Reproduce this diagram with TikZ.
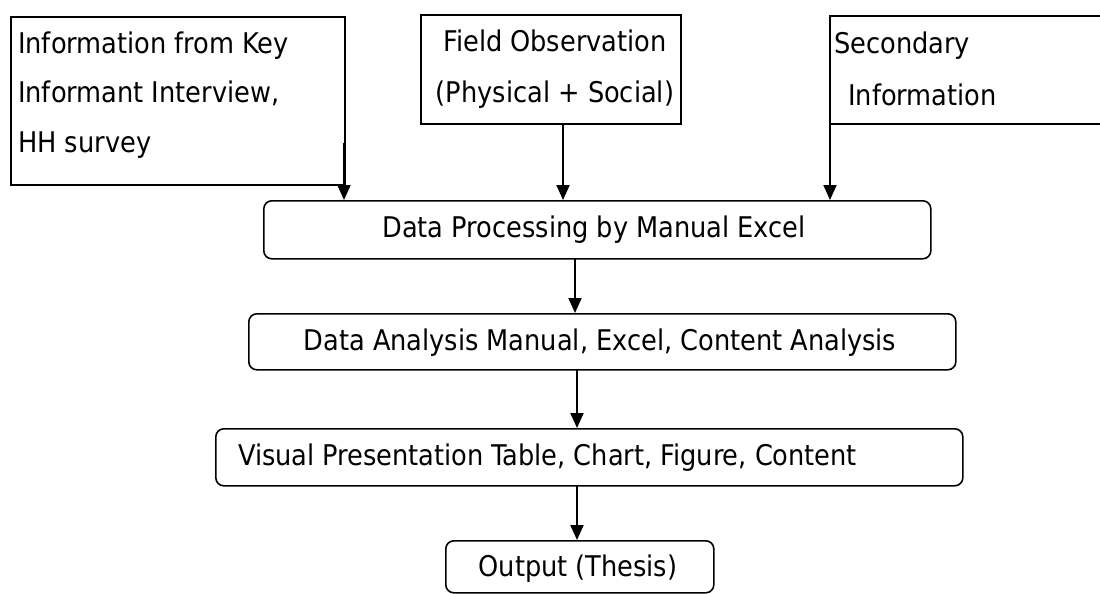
\documentclass[tikz,border=0pt]{standalone}
\usepackage{fontspec}
\setmainfont{DejaVu Sans Condensed}
\usetikzlibrary{arrows.meta}
\tikzset{
  topbox/.style={draw, line width=1.6pt, rectangle, inner sep=0pt},
  roundbox/.style={draw, line width=1.6pt, rectangle, rounded corners=8pt, inner sep=0pt},
  arr/.style={line width=2pt, -{Triangle[length=15pt,width=13pt]}},
  txt/.style={font=\fontsize{28.5}{49}\selectfont, inner sep=0pt, anchor=base}
}
\begin{document}
\begin{tikzpicture}[x=1pt,y=1pt]
\useasboundingbox (0,0) rectangle (1100,-594);
% top boxes
\node[topbox, minimum width=334pt, minimum height=168pt, anchor=north west] (b1) at (10,-16) {};
\node[txt, anchor=base west] (t1a) at (18,-53) {Information from Key};
\node[txt, anchor=base west] (t1b) at (18,-102) {Informant Interview,};
\node[txt, anchor=base west] (t1c) at (18,-152) {HH survey};
\node[topbox, minimum width=260pt, minimum height=109pt, anchor=north west] (b2) at (420,-14) {};
\node[txt] (t2a) at (555,-52) {Field Observation};
\node[txt] (t2b) at (555,-102) {(Physical + Social)};
\coordinate (b3tl) at (830,-16);
\coordinate (b3bl) at (830,-124);
\draw[line width=1.6pt] (1101,-16) -- (b3tl) -- (b3bl) -- (1101,-124);
\node[txt, anchor=base west] (t3a) at (834,-53) {Secondary};
\node[txt, anchor=base west] (t3b) at (848,-105) {Information};
% process boxes
\node[roundbox, minimum width=667pt, minimum height=58pt, anchor=north west] (dp) at (263,-200) {};
\node[txt] (tdp) at (594,-237) {Data Processing by Manual Excel};
\node[roundbox, minimum width=707pt, minimum height=56pt, anchor=north west] (da) at (248,-313) {};
\node[txt] (tda) at (600,-350) {Data Analysis Manual, Excel, Content Analysis};
\node[roundbox, minimum width=747pt, minimum height=57pt, anchor=north west] (vp) at (215,-428) {};
\node[txt, anchor=base west] (tvp) at (238,-465) {Visual Presentation Table, Chart, Figure, Content};
\node[roundbox, minimum width=268pt, minimum height=52pt, anchor=north west] (out) at (445,-540) {};
\node[txt] (tout) at (578,-576) {Output (Thesis)};
% arrows
\coordinate (a1s) at (344,-143);
\draw[arr] (a1s) -- (a1s |- dp.north);
\coordinate (a2s) at (563,-123);
\draw[arr] (a2s) -- (a2s |- dp.north);
\coordinate (a3s) at (830,-87);
\draw[arr] (a3s) -- (a3s |- dp.north);
\coordinate (a4s) at (575,-258);
\draw[arr] (a4s) -- (a4s |- da.north);
\coordinate (a5s) at (577,-369);
\draw[arr] (a5s) -- (a5s |- vp.north);
\coordinate (a6s) at (577,-485);
\draw[arr] (a6s) -- (a6s |- out.north);
\end{tikzpicture}
\end{document}
